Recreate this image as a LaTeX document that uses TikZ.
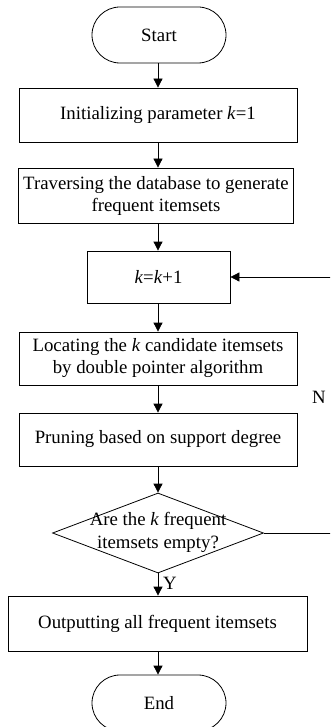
\documentclass[tikz,border=0pt]{standalone}
\usepackage{fontspec}
\setmainfont{Liberation Serif}
\usetikzlibrary{shapes.geometric,arrows.meta}
\begin{document}
\begin{tikzpicture}[x=1pt,y=-1pt,
  every node/.style={font=\fontsize{18.8}{22}\selectfont},
  proc/.style={draw,line width=0.8pt,rectangle,inner sep=0pt,align=center},
  term/.style={draw,line width=0.8pt,rectangle,rounded corners=28pt,inner sep=0pt,
               minimum width=134pt,minimum height=56pt},
  decide/.style={draw,line width=0.8pt,diamond,inner sep=0pt,
                 minimum width=211pt,minimum height=80pt},
  flow/.style={line width=0.8pt,-{Triangle[width=9pt,length=9pt]}},
  link/.style={line width=0.8pt}]
\useasboundingbox (0,0) rectangle (330,727);
\clip (0,0) rectangle (330,727);

% vertical axis of the main column
\coordinate (axis) at (158,0);

% main column
\node[term] (start) at (159,35) {Start};
\node[proc,minimum width=278pt,minimum height=54pt] (init) at (158,115)
  {Initializing parameter \textit{k}=1};
\node[proc,minimum width=275pt,minimum height=55pt] (scan) at (156,195.5)
  {Traversing the database to generate\\frequent itemsets};
\node[proc,minimum width=143pt,minimum height=52pt] (inc) at (158.5,277)
  {\textit{k}=\textit{k}+1};
\node[proc,minimum width=278pt,minimum height=53pt] (cand) at (158,358.5)
  {Locating the \textit{k} candidate itemsets\\by double pointer algorithm};
\node[proc,minimum width=278pt,minimum height=53pt] (prune) at (158,439.5)
  {Pruning based on support degree};
\node[decide] (test) at (158,533) {};
\node[anchor=base,inner sep=0pt] (testa) at (158,525) {Are the \textit{k} frequent};
\node[anchor=base,inner sep=0pt] (testb) at (158,548) {itemsets empty?};
\node[proc,minimum width=299pt,minimum height=55pt] (out) at (157.5,623.5)
  {Outputting all frequent itemsets};
\node[term] (end) at (159,703) {End};

% connectors
\draw[flow] (start.south -| axis) -- (init.north -| axis);
\draw[flow] (init.south -| axis) -- (scan.north -| axis);
\draw[flow] (scan.south -| axis) -- (inc.north -| axis);
\draw[flow] (inc.south -| axis) -- (cand.north -| axis);
\draw[flow] (cand.south -| axis) -- (prune.north -| axis);
\draw[flow] (prune.south -| axis) -- (test.north);
\draw[flow] (test.south) -- (out.north -| axis);
\draw[flow] (out.south -| axis) -- (end.north -| axis);

% loop back when the itemsets are not empty
\coordinate (loopx) at (333,0);
\draw[flow] (test.east) -- (test.east -| loopx) -- (inc.east -| loopx) -- (inc.east);

% branch labels
\node[inner sep=0pt] (nlab) at (319,397) {N};
\node[inner sep=0pt] (ylab) at (170,583) {Y};
\end{tikzpicture}
\end{document}
